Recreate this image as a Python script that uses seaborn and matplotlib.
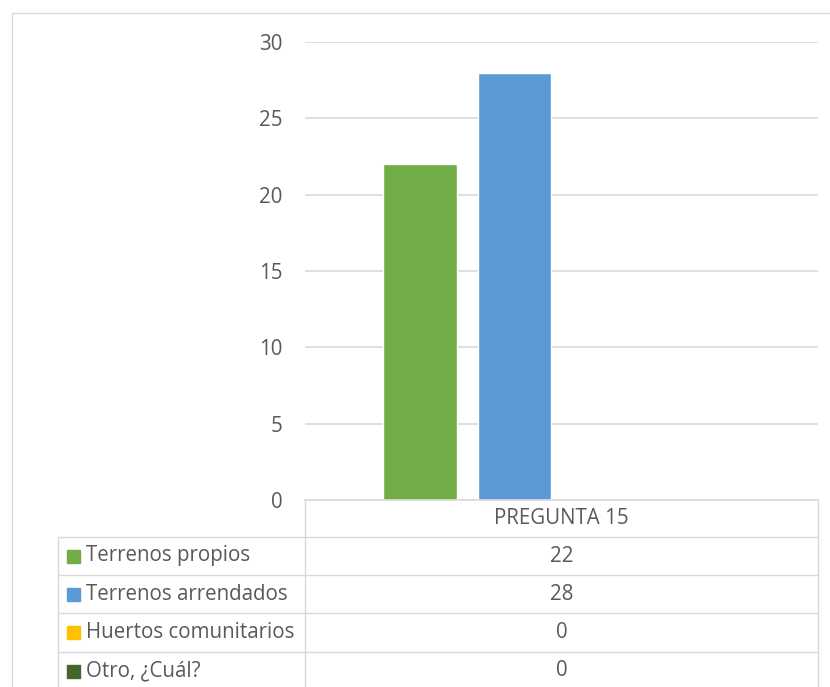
import matplotlib
matplotlib.use("Agg")
import matplotlib.pyplot as plt
from matplotlib.lines import Line2D
from matplotlib.patches import Rectangle
import seaborn as sns
import pandas as pd

# ---- data ----
category = ["PREGUNTA 15"]
series = ["Terrenos propios", "Terrenos arrendados", "Huertos comunitarios", "Otro, ¿Cuál?"]
values = [22, 28, 0, 0]
colors = ["#70AD47", "#5B9BD5", "#FFC000", "#43682B"]
yticks = [0, 5, 10, 15, 20, 25, 30]

df = pd.DataFrame({"cat": category * len(series), "serie": series, "val": values})

sns.set_theme(style="white")
plt.rcParams["font.family"] = ["Open Sans", "DejaVu Sans"]

W, H = 830, 687
fig = plt.figure(figsize=(W / 100, H / 100), dpi=100)

def fx(px):
    return px / W

def fy(py):
    return 1 - py / H

GRID = "#D9D9D9"
TXT = "#595959"
FS = 14.8

ax = fig.add_axes([fx(305), fy(500), fx(818) - fx(305), fy(42) - fy(500)])
sns.barplot(data=df, x="cat", y="val", hue="serie", palette=colors,
            width=0.733, gap=0.213, ax=ax, legend=False, saturation=1)
ax.set_ylim(0, 30)
ax.set_xlim(-0.5, 0.5)
ax.set_yticks(yticks)
ax.set_yticklabels([str(t) for t in yticks], color=TXT, fontsize=FS)
ax.tick_params(axis="y", length=0, pad=16)
ax.set_xticks([])
ax.set_xlabel("")
ax.set_ylabel("")
for s in ["top", "right", "left"]:
    ax.spines[s].set_visible(False)
ax.spines["bottom"].set_color(GRID)
ax.spines["bottom"].set_linewidth(1.2)
ax.yaxis.grid(True, color=GRID, linewidth=1.2)
ax.set_axisbelow(True)

# ---- outer chart border ----
def hline(y, x0, x1, lw=1.0, c=GRID):
    fig.add_artist(Line2D([fx(x0), fx(x1)], [fy(y), fy(y)], color=c, lw=lw))

def vline(x, y0, y1, lw=1.0, c=GRID):
    fig.add_artist(Line2D([fx(x), fx(x)], [fy(y0), fy(y1)], color=c, lw=lw))

hline(13, 12, 830)
vline(12, 13, 687)

# ---- data table ----
col0, col1, col2 = 58, 305, 818
row_edges = [537, 575, 613, 652, 690]
vline(col1, 500, 690)
vline(col2, 500, 690)
vline(col0, 537, 690)
for y in row_edges:
    hline(y, col0, col2)

fig.text(fx((col1 + col2) / 2), fy(519), category[0], ha="center", va="center",
         color=TXT, fontsize=FS)
for i, (name, val, c) in enumerate(zip(series, values, colors)):
    yc = (row_edges[i] + row_edges[i + 1]) / 2
    fig.add_artist(Rectangle((fx(67), fy(yc + 6.5)), fx(13), fy(0) - fy(13), color=c,
                             transform=fig.transFigure))
    fig.text(fx(86), fy(yc), name, ha="left", va="center", color=TXT, fontsize=FS)
    fig.text(fx((col1 + col2) / 2), fy(yc), str(val), ha="center", va="center",
             color=TXT, fontsize=FS)

fig.savefig("out.png", dpi=100)
